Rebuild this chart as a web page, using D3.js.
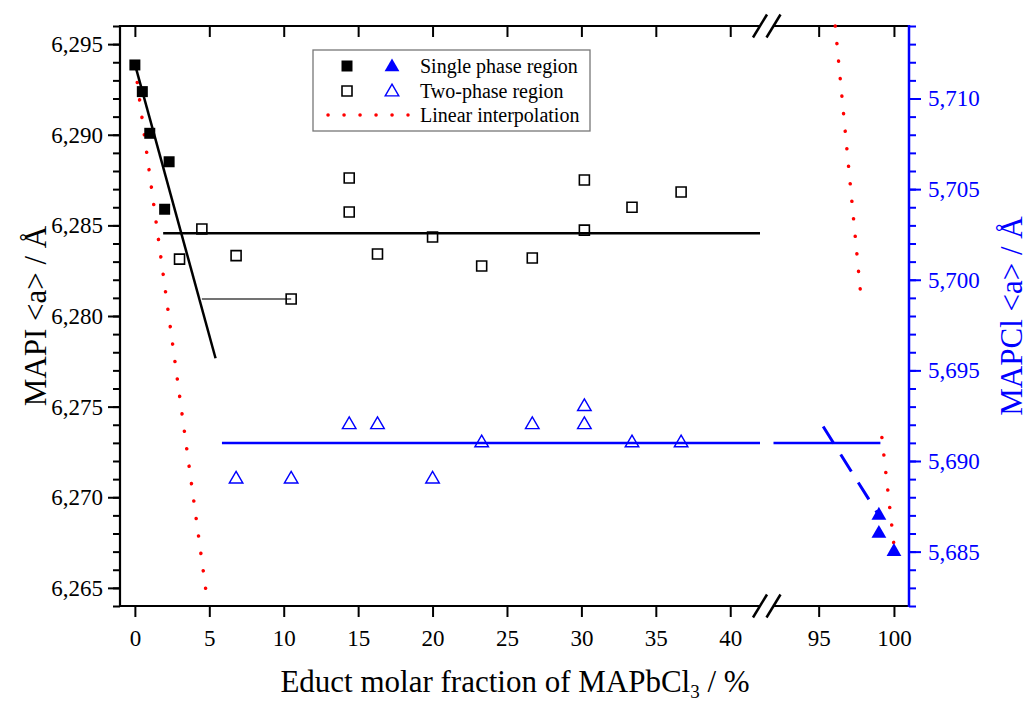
<!DOCTYPE html>
<html>
<head>
<meta charset="utf-8">
<script src="https://cdn.jsdelivr.net/npm/d3@7"></script>
<style>
  body { margin: 0; background: #fff; }
  svg { display: block; font-family: "Liberation Serif", "Times New Roman", serif; }
</style>
</head>
<body>
<div id="chart"></div>
<script>
// MAPI lattice parameter (left axis)
const mapiSingleX = [0, 0.5, 1.0, 2.0, 2.3];
const mapiSingleA = [6.29385, 6.29238, 6.29008, 6.28589, 6.28851];
const mapiTwoX = [3.0, 4.5, 6.8, 10.5, 14.4, 14.4, 16.3, 20.0, 23.3, 26.7, 30.2, 30.2, 33.4, 36.7];
const mapiTwoA = [6.28314, 6.2848, 6.28333, 6.28094, 6.28761, 6.28574, 6.28342, 6.28436, 6.28276, 6.2832, 6.2875, 6.28474, 6.2860, 6.28684];

// MAPCl lattice parameter (right axis)
const mapclTwoX = [6.8, 10.5, 14.4, 16.3, 20.0, 23.3, 26.7, 30.2, 30.2, 33.4, 36.7];
const mapclTwoA = [5.689, 5.689, 5.692, 5.692, 5.689, 5.691, 5.692, 5.693, 5.692, 5.691, 5.691];
const mapclSingleX = [99, 99, 100];
const mapclSingleA = [5.687, 5.686, 5.685];

// fitted / guide lines
const mapiFitX = [0, 5.42], mapiFitA = [6.2939, 6.27767];
const mapiMeanX = [1.9, 42.0], mapiMeanA = [6.28456, 6.28456];
const mapiGuideX = [4.5, 10.5], mapiGuideA = [6.28094, 6.28094];
const mapiInterpX = [0, 4.83], mapiInterpA = [6.29385, 6.2645];
const mapclMeanX = [5.85, 42.0], mapclMeanA = [5.691, 5.691];
const mapclMeanRX = [92.0, 99.1], mapclMeanRA = [5.691, 5.691];
const mapclFitX = [95.3, 99.0], mapclFitA = [5.6919, 5.687];
const mapclInterpUpX = [96.1, 97.85], mapclInterpUpA = [5.714, 5.6987];
const mapclInterpLoX = [99.2, 100.05], mapclInterpLoA = [5.6913, 5.685];

// ticks
const xTicksLeft = [0, 5, 10, 15, 20, 25, 30, 35, 40];
const xTicksRight = [95, 100];
const yTicksLeft = [6.265, 6.270, 6.275, 6.280, 6.285, 6.290, 6.295];
const yTicksRight = [5.685, 5.690, 5.695, 5.700, 5.705, 5.710];

const width = 1029, height = 705;
const plotTop = 26, plotBottom = 606;
const blue = "#0000ff", red = "#ff0000";
const serif = "'Liberation Serif', 'Times New Roman', serif";

const svg = d3.select("#chart").append("svg")
  .attr("width", width)
  .attr("height", height);

const xL = d3.scaleLinear().domain([-1, 42]).range([120, 760]);
const xR = d3.scaleLinear().domain([92, 101]).range([773.5, 909]);
const yL = d3.scaleLinear().domain([6.264, 6.296]).range([plotBottom, plotTop]);
const yR = d3.scaleLinear().domain([5.682, 5.714]).range([plotBottom, plotTop]);

const fmt = d => d.toFixed(3).replace(".", ",");
const minor = (lo, hi) => d3.range(Math.round(lo * 1000), Math.round(hi * 1000) + 1).map(v => v / 1000);

function styleAxis(g, color, fontSize) {
  g.attr("font-family", serif);
  g.select(".domain").remove();
  g.selectAll("line").attr("stroke", color).attr("stroke-width", 2);
  g.selectAll("text").attr("fill", color)
    .style("font-family", serif)
    .style("font-size", fontSize + "px");
}

// left axis
svg.append("g").attr("transform", "translate(120,0)")
  .call(d3.axisLeft(yL).tickValues(minor(6.264, 6.296)).tickSize(7).tickFormat(""))
  .call(g => styleAxis(g, "#000", 23));
svg.append("g").attr("transform", "translate(120,0)")
  .call(d3.axisLeft(yL).tickValues(yTicksLeft).tickSize(12).tickPadding(5).tickFormat(fmt))
  .call(g => styleAxis(g, "#000", 23));

// right axis
svg.append("g").attr("transform", "translate(909,0)")
  .call(d3.axisRight(yR).tickValues(minor(5.682, 5.714)).tickSize(7).tickFormat(""))
  .call(g => styleAxis(g, blue, 23));
svg.append("g").attr("transform", "translate(909,0)")
  .call(d3.axisRight(yR).tickValues(yTicksRight).tickSize(12).tickPadding(7).tickFormat(fmt))
  .call(g => styleAxis(g, blue, 23));

// bottom axis
svg.append("g").attr("transform", `translate(0,${plotBottom})`)
  .call(d3.axisBottom(xL).tickValues(xTicksLeft).tickSize(11).tickPadding(13))
  .call(g => styleAxis(g, "#000", 23));
svg.append("g").attr("transform", `translate(0,${plotBottom})`)
  .call(d3.axisBottom(xR).tickValues(xTicksRight).tickSize(11).tickPadding(13))
  .call(g => styleAxis(g, "#000", 23));

// top axis (inward ticks, no labels)
svg.append("g").attr("transform", `translate(0,${plotTop})`)
  .call(d3.axisTop(xL).tickValues(xTicksLeft).tickSize(-11).tickFormat(""))
  .call(g => styleAxis(g, "#000", 23));
svg.append("g").attr("transform", `translate(0,${plotTop})`)
  .call(d3.axisTop(xR).tickValues(xTicksRight).tickSize(-11).tickFormat(""))
  .call(g => styleAxis(g, "#000", 23));

// frame lines with break
const frame = svg.append("g").attr("stroke", "#000").attr("stroke-width", 2.2);
[plotTop, plotBottom].forEach(y => {
  frame.append("line").attr("x1", 119).attr("x2", 760).attr("y1", y).attr("y2", y);
  frame.append("line").attr("x1", 773.5).attr("x2", 909).attr("y1", y).attr("y2", y);
  [760, 773.5].forEach(cx => {
    frame.append("line").attr("x1", cx - 7).attr("y1", y + 11.5)
      .attr("x2", cx + 7).attr("y2", y - 11.5).attr("stroke-width", 2.5);
  });
});
frame.append("line").attr("x1", 120).attr("x2", 120).attr("y1", plotTop - 1).attr("y2", plotBottom + 1);
svg.append("line").attr("x1", 909).attr("x2", 909).attr("y1", plotTop - 1).attr("y2", plotBottom + 1)
  .attr("stroke", blue).attr("stroke-width", 2.5);

// lines
const line = (xs, ys, sx, sy) => d3.line()(xs.map((x, i) => [sx(x), sy(ys[i])]));
const dotted = p => p.attr("stroke", red).attr("stroke-width", 3.5).attr("stroke-linecap", "round")
  .attr("stroke-dasharray", "0.1 17.5").attr("fill", "none");
const plot = svg.append("g");
plot.append("path").attr("d", line(mapiInterpX, mapiInterpA, xL, yL)).call(dotted);
plot.append("path").attr("d", line(mapclInterpUpX, mapclInterpUpA, xR, yR)).call(dotted);
plot.append("path").attr("d", line(mapclInterpLoX, mapclInterpLoA, xR, yR)).call(dotted);
plot.append("path").attr("d", line(mapiFitX, mapiFitA, xL, yL))
  .attr("stroke", "#000").attr("stroke-width", 2.5).attr("fill", "none");
plot.append("path").attr("d", line(mapiMeanX, mapiMeanA, xL, yL))
  .attr("stroke", "#000").attr("stroke-width", 2.5).attr("fill", "none");
plot.append("path").attr("d", line(mapiGuideX, mapiGuideA, xL, yL))
  .attr("stroke", "#444").attr("stroke-width", 1.5).attr("fill", "none");
plot.append("path").attr("d", line(mapclMeanX, mapclMeanA, xL, yR))
  .attr("stroke", blue).attr("stroke-width", 2.5).attr("fill", "none");
plot.append("path").attr("d", line(mapclMeanRX, mapclMeanRA, xR, yR))
  .attr("stroke", blue).attr("stroke-width", 2.5).attr("fill", "none");
plot.append("path").attr("d", line(mapclFitX, mapclFitA, xR, yR))
  .attr("stroke", blue).attr("stroke-width", 3).attr("stroke-dasharray", "20 13").attr("fill", "none");

// markers
const sq = d3.symbol().type(d3.symbolSquare).size(121);
const openSq = d3.symbol().type(d3.symbolSquare).size(100);
const tri = d3.symbol().type(d3.symbolTriangle).size(95);
const openTri = d3.symbol().type(d3.symbolTriangle).size(80);

plot.selectAll(".mapiTwo").data(mapiTwoX).join("path")
  .attr("d", openSq)
  .attr("transform", (d, i) => `translate(${xL(d)},${yL(mapiTwoA[i])})`)
  .attr("fill", "none").attr("stroke", "#000").attr("stroke-width", 1.6);
plot.selectAll(".mapiSingle").data(mapiSingleX).join("path")
  .attr("d", sq)
  .attr("transform", (d, i) => `translate(${xL(d)},${yL(mapiSingleA[i])})`)
  .attr("fill", "#000");
plot.selectAll(".mapclTwo").data(mapclTwoX).join("path")
  .attr("d", openTri)
  .attr("transform", (d, i) => `translate(${xL(d)},${yR(mapclTwoA[i])})`)
  .attr("fill", "none").attr("stroke", blue).attr("stroke-width", 1.4);
plot.selectAll(".mapclSingle").data(mapclSingleX).join("path")
  .attr("d", tri)
  .attr("transform", (d, i) => `translate(${xR(d)},${yR(mapclSingleA[i])})`)
  .attr("fill", blue);

// axis titles
svg.append("text")
  .attr("transform", `translate(46,${(plotTop + plotBottom) / 2}) rotate(-90)`)
  .attr("text-anchor", "middle").style("font-size", "31px")
  .text("MAPI <a> / Å");
svg.append("text")
  .attr("transform", `translate(1022,${(plotTop + plotBottom) / 2}) rotate(-90)`)
  .attr("text-anchor", "middle").style("font-size", "31px").attr("fill", blue)
  .text("MAPCl <a> / Å");
const xt = svg.append("text")
  .attr("x", 515).attr("y", 692)
  .attr("text-anchor", "middle").style("font-size", "31px");
xt.append("tspan").text("Educt molar fraction of MAPbCl");
xt.append("tspan").attr("dy", 6).style("font-size", "19px").text("3");
xt.append("tspan").attr("dy", -6).text(" / %");

// legend
const lg = svg.append("g");
lg.append("rect").attr("x", 313).attr("y", 50).attr("width", 277).attr("height", 81)
  .attr("fill", "#fff").attr("stroke", "#777").attr("stroke-width", 1.3);
lg.append("path").attr("d", sq).attr("transform", "translate(347,66)").attr("fill", "#000");
lg.append("path").attr("d", tri).attr("transform", "translate(392,67)").attr("fill", blue);
lg.append("path").attr("d", openSq)
  .attr("transform", "translate(347,91)").attr("fill", "none").attr("stroke", "#000").attr("stroke-width", 1.6);
lg.append("path").attr("d", openTri).attr("transform", "translate(392,92)")
  .attr("fill", "none").attr("stroke", blue).attr("stroke-width", 1.4);
lg.append("line").attr("x1", 328).attr("x2", 408).attr("y1", 115).attr("y2", 115)
  .attr("stroke", red).attr("stroke-width", 3.5).attr("stroke-linecap", "round")
  .attr("stroke-dasharray", "0.1 15.9");
["Single phase region", "Two-phase region", "Linear interpolation"].forEach((t, i) => {
  lg.append("text").attr("x", 420).attr("y", 66 + i * 24.5).attr("dy", "0.35em")
    .style("font-size", "20px").text(t);
});
</script>
</body>
</html>
